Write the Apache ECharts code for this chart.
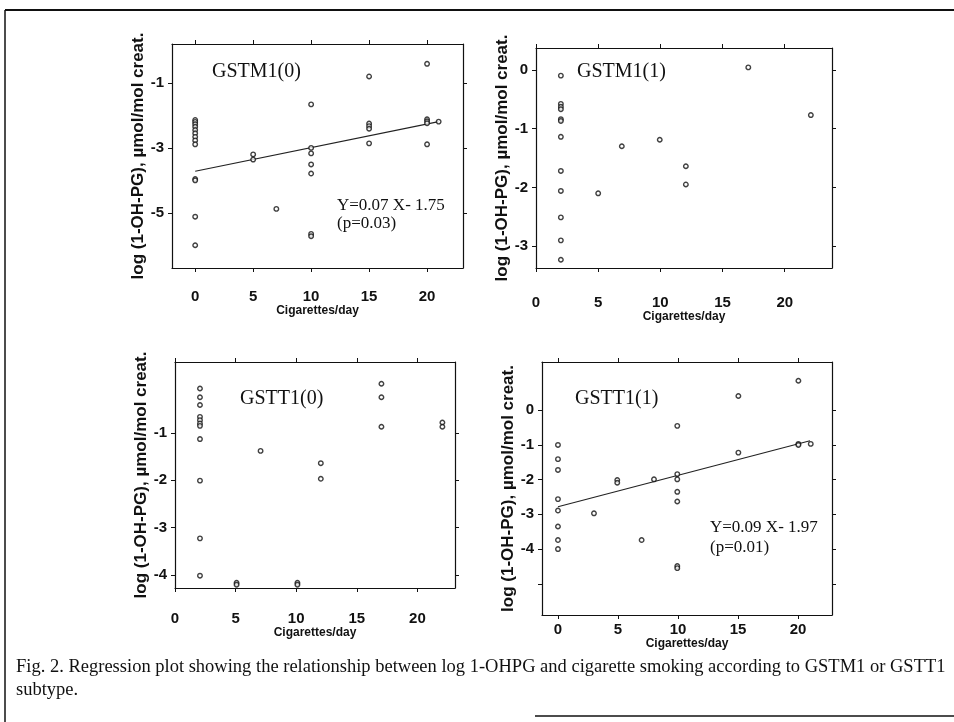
<!DOCTYPE html>
<html><head><meta charset="utf-8">
<script src="https://cdn.jsdelivr.net/npm/echarts@6/dist/echarts.min.js"></script>
<style>html,body{margin:0;padding:0;background:#fff}#c{width:954px;height:722px}</style>
</head><body><div id="c"></div>
<script>
// ---------- data ----------
const xTicks = [0, 5, 10, 15, 20];
const p1YTicks = [-5, -3, -1];
const p2YTicks = [-3, -2, -1, 0];
const p3YTicks = [-4, -3, -2, -1];
const p4YTicks = [-4, -3, -2, -1, 0];

const p1X = [0,0,0,0,0,0,0,0,0,0,0,0,0, 5,5, 7, 10,10,10,10,10,10,10, 15,15,15,15,15, 20,20,20,20,20, 21];
const p1Y = [-2.14,-2.2,-2.27,-2.35,-2.45,-2.55,-2.66,-2.77,-2.89,-3.96,-4.0,-5.12,-6.0, -3.2,-3.36, -4.88, -1.66,-3.0,-3.17,-3.51,-3.79,-5.65,-5.72, -0.8,-2.25,-2.33,-2.41,-2.86, -0.41,-2.12,-2.18,-2.24,-2.89, -2.19];
const p1LineX = [0, 21];
const p1LineY = [-3.72, -2.19];

const p2X = [2,2,2,2,2,2,2,2,2,2,2,2, 5, 6.9, 9.95, 12.05,12.05, 17.07, 22.1];
const p2Y = [-0.1,-0.58,-0.63,-0.67,-0.84,-0.87,-1.14,-1.72,-2.06,-2.51,-2.9,-3.23, -2.1, -1.3, -1.19, -1.64,-1.95, 0.04, -0.77];

const p3X = [2.06,2.06,2.06,2.06,2.06,2.06,2.06,2.06,2.06,2.06,2.06, 5.08,5.08, 7.06, 10.1,10.1, 12.03,12.03, 17.03,17.03,17.03, 22.06,22.06];
const p3Y = [-0.06,-0.245,-0.41,-0.66,-0.73,-0.8,-0.85,-1.13,-2.01,-3.23,-4.02, -4.17,-4.21, -1.38, -4.17,-4.21, -1.64,-1.97, 0.04,-0.245,-0.87, -0.78,-0.87];

const p4X = [0,0,0,0,0,0,0,0, 3.0, 4.94,4.94, 6.97, 8.0, 9.94,9.94,9.94,9.94,9.94,9.94,9.94, 15.03,15.03, 20.03,20.03,20.03, 21.06];
const p4Y = [-1.0,-1.41,-1.72,-2.56,-2.89,-3.35,-3.74,-4.0, -2.97, -2.01,-2.09, -3.74, -1.99, -0.45,-1.84,-1.99,-2.35,-2.63,-4.49,-4.55, 0.41,-1.22, 0.85,-0.97,-1.0, -0.97];
const p4LineX = [0, 21];
const p4LineY = [-2.78, -0.88];

const yName = 'log (1-OH-PG), µmol/mol creat.';
const xName = 'Cigarettes/day';

// ---------- layout ----------
const panels = [
  {grid:{left:172, top:44, width:291, height:224}, xMin:-2, xMax:23.1, yMin:-6.7, yMax:0.2, yTicks:p1YTicks, yTickVals:p1YTicks, xs:p1X, ys:p1Y, lx:p1LineX, ly:p1LineY, xMargin:21, xGap:31, yGap:22},
  {grid:{left:536, top:48, width:296, height:220}, xMin:0, xMax:23.8, yMin:-3.37, yMax:0.37, yTicks:p2YTicks, yTickVals:p2YTicks, xs:p2X, ys:p2Y, xMargin:27, xGap:38, yGap:24},
  {grid:{left:175, top:362, width:280, height:226}, xMin:0, xMax:23.1, yMin:-4.28, yMax:0.5, yTicks:p3YTicks, yTickVals:p3YTicks, xs:p3X, ys:p3Y, xMargin:23, xGap:36, yGap:22},
  {grid:{left:542, top:362, width:290, height:253}, xMin:-1.33, xMax:22.83, yMin:-5.9, yMax:1.39, yTicks:p4YTicks, yTickVals:[-5,-4,-3,-2,-1,0], xs:p4X, ys:p4Y, lx:p4LineX, ly:p4LineY, xMargin:7, xGap:21, yGap:24}
];

const ink = '#111';
const tickFont = {fontFamily:'Liberation Sans', fontWeight:'bold', fontSize:15, color:ink};
const grids=[], xAxes=[], yAxes=[], series=[];
panels.forEach((p,i)=>{
  grids.push(p.grid);
  const base = {type:'value', gridIndex:i, splitLine:{show:false},
    axisLine:{show:true, onZero:false, lineStyle:{color:ink, width:1.2}},
    axisTick:{show:true, inside:false, length:4, lineStyle:{color:ink}}};
  xAxes.push(Object.assign({}, base, {position:'bottom', min:p.xMin, max:p.xMax,
    axisTick:Object.assign({}, base.axisTick, {customValues:xTicks}),
    axisLabel:Object.assign({customValues:xTicks, margin:p.xMargin}, tickFont),
    name:xName, nameLocation:'middle', nameGap:p.xGap,
    nameTextStyle:{fontFamily:'Liberation Sans', fontWeight:'bold', fontSize:12, color:ink}}));
  xAxes.push(Object.assign({}, base, {position:'top', min:p.xMin, max:p.xMax,
    axisTick:Object.assign({}, base.axisTick, {customValues:xTicks}),
    axisLabel:{show:false}}));
  yAxes.push(Object.assign({}, base, {position:'left', min:p.yMin, max:p.yMax,
    axisTick:Object.assign({}, base.axisTick, {customValues:p.yTickVals}),
    axisLabel:Object.assign({customValues:p.yTicks, margin:8}, tickFont),
    name:yName, nameLocation:'middle', nameGap:p.yGap, nameRotate:90,
    nameTextStyle:{fontFamily:'Liberation Sans', fontWeight:'bold', fontSize:17, color:ink}}));
  yAxes.push(Object.assign({}, base, {position:'right', min:p.yMin, max:p.yMax,
    axisTick:Object.assign({}, base.axisTick, {customValues:p.yTickVals}),
    axisLabel:{show:false}}));
  series.push({type:'scatter', xAxisIndex:2*i, yAxisIndex:2*i,
    data:p.xs.map((x,k)=>[x,p.ys[k]]), symbol:'circle', symbolSize:4.5,
    itemStyle:{color:'#fff', borderColor:ink, borderWidth:1.4}, silent:true, z:3});
  if(p.lx){
    series.push({type:'line', xAxisIndex:2*i, yAxisIndex:2*i,
      data:p.lx.map((x,k)=>[x,p.ly[k]]), showSymbol:false, silent:true,
      lineStyle:{color:'#222', width:1.2}, z:2});
  }
});

const graphic = [
  {type:'line', shape:{x1:5,y1:10,x2:954,y2:10}, style:{stroke:'#111', lineWidth:2}},
  {type:'line', shape:{x1:5,y1:10,x2:5,y2:722}, style:{stroke:'#111', lineWidth:1.5}},
  {type:'line', shape:{x1:535,y1:716,x2:954,y2:716}, style:{stroke:'#111', lineWidth:1.5}},
  {type:'text', left:212, top:62, style:{text:'GSTM1(0)', font:'20px "Liberation Serif"', fill:ink}},
  {type:'text', left:337, top:197, style:{text:'Y=0.07 X- 1.75', font:'17px "Liberation Serif"', fill:ink}},
  {type:'text', left:337, top:215, style:{text:'(p=0.03)', font:'17px "Liberation Serif"', fill:ink}},
  {type:'text', left:577, top:62, style:{text:'GSTM1(1)', font:'20px "Liberation Serif"', fill:ink}},
  {type:'text', left:240, top:389, style:{text:'GSTT1(0)', font:'20px "Liberation Serif"', fill:ink}},
  {type:'text', left:575, top:389, style:{text:'GSTT1(1)', font:'20px "Liberation Serif"', fill:ink}},
  {type:'text', left:710, top:519, style:{text:'Y=0.09 X- 1.97', font:'17px "Liberation Serif"', fill:ink}},
  {type:'text', left:710, top:539, style:{text:'(p=0.01)', font:'17px "Liberation Serif"', fill:ink}},
  {type:'text', left:16, top:658, style:{text:'Fig. 2. Regression plot showing the relationship between log 1-OHPG and cigarette smoking according to GSTM1 or GSTT1', font:'18.5px "Liberation Serif"', fill:ink}},
  {type:'text', left:16, top:681, style:{text:'subtype.', font:'18.5px "Liberation Serif"', fill:ink}}
];

const chart = echarts.init(document.getElementById('c'), null, {renderer:'canvas'});
chart.setOption({animation:false, backgroundColor:'#fff', grid:grids, xAxis:xAxes, yAxis:yAxes, series:series, graphic:graphic});
</script></body></html>
